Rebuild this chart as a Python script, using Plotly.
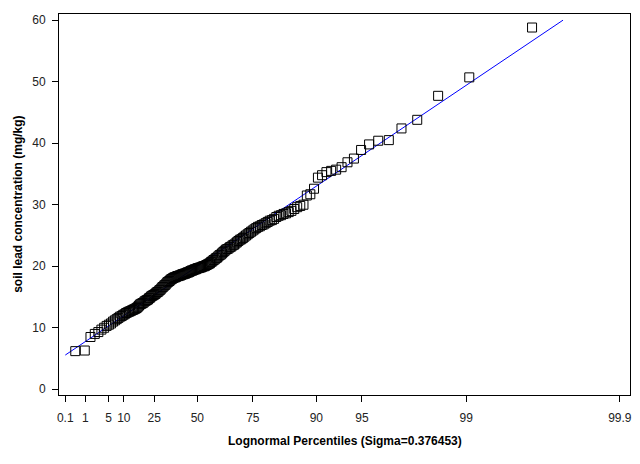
from statistics import NormalDist
import numpy as np
import plotly.graph_objects as go

# soil lead concentration (mg/kg), sorted ascending
lead = [
    6.2, 6.3, 8.5, 9.0, 9.3, 9.7, 10.0, 10.3, 10.5, 10.7,
    11.0, 11.2, 11.4, 11.6, 11.8, 11.9, 12.1, 12.2, 12.4, 12.5,
    12.6, 12.7, 12.8, 12.9, 13.0, 13.1, 13.2, 13.4, 13.6, 13.8,
    13.9, 14.0, 14.1, 14.3, 14.4, 14.5, 14.6, 14.8, 14.9, 15.1,
    15.2, 15.3, 15.4, 15.5, 15.7, 15.8, 15.9, 16.1, 16.2, 16.4,
    16.6, 16.7, 16.9, 17.0, 17.2, 17.4, 17.5, 17.6, 17.8, 17.9,
    18.0, 18.1, 18.2, 18.2, 18.3, 18.4, 18.4, 18.5, 18.5, 18.6,
    18.7, 18.7, 18.8, 18.8, 18.9, 19.0, 19.0, 19.1, 19.2, 19.3,
    19.3, 19.4, 19.5, 19.5, 19.6, 19.7, 19.7, 19.8, 19.8, 19.9,
    20.0, 20.0, 20.1, 20.2, 20.3, 20.4, 20.5, 20.7, 20.8, 21.0,
    21.1, 21.3, 21.4, 21.6, 21.8, 21.9, 22.1, 22.3, 22.5, 22.7,
    22.8, 22.9, 23.1, 23.2, 23.4, 23.5, 23.7, 23.9, 24.1, 24.3,
    24.4, 24.6, 24.8, 25.0, 25.2, 25.4, 25.6, 25.8, 26.0, 26.2,
    26.4, 26.5, 26.7, 26.8, 27.0, 27.2, 27.4, 27.5, 27.7, 28.0,
    28.2, 28.3, 28.5, 28.6, 28.8, 29.0, 29.3, 29.6, 29.8, 30.0,
    31.5, 31.7, 32.6, 34.4, 34.8, 35.3, 35.5, 35.7, 36.1, 36.9,
    37.5, 38.9, 39.8, 40.4, 40.5, 42.4, 43.8, 47.7, 50.7, 58.8,
]

sigma = 0.376453
# fitted reference line: y = theta + exp(zeta) * exp(sigma * z)
line_theta = -1.0
line_scale = 21.0

pct_ticks = [0.1, 1, 5, 10, 25, 50, 75, 90, 95, 99, 99.9]
pct_labels = ["0.1", "1", "5", "10", "25", "50", "75", "90", "95", "99", "99.9"]
y_ticks = [0, 10, 20, 30, 40, 50, 60]

nd = NormalDist()


def lognorm_x(p):
    # percentile (0-1) -> position on the lognormal probability axis
    return np.exp(sigma * np.array([nd.inv_cdf(v) for v in np.atleast_1d(p)]))


n = len(lead)
ranks = np.arange(1, n + 1)
blom = (ranks - 0.375) / (n + 0.25)
x_pts = lognorm_x(blom)

x_line = np.array([lognorm_x(0.001)[0], (60 - line_theta) / line_scale])
y_line = line_theta + line_scale * x_line

font = "Liberation Sans, Arial, sans-serif"

fig = go.Figure()
fig.add_trace(go.Scatter(
    x=x_line, y=y_line, mode="lines",
    line=dict(color="#0000ff", width=1), hoverinfo="skip",
))
fig.add_trace(go.Scatter(
    x=x_pts, y=lead, mode="markers",
    marker=dict(symbol="square-open", size=9, color="black",
                line=dict(width=1, color="black")),
))

# page body adds an 8px margin, so the figure is 8px smaller on each side
fig.update_layout(
    width=632, height=456,
    margin=dict(l=51, r=10, t=6, b=69),
    paper_bgcolor="white", plot_bgcolor="white",
    showlegend=False,
    font=dict(family=font, size=12, color="#222222"),
)
fig.update_xaxes(
    range=[0.2797, 3.2536], automargin=False,
    tickvals=list(lognorm_x(np.array(pct_ticks) / 100)),
    ticktext=pct_labels,
    ticks="outside", ticklen=6, tickcolor="black", ticklabelstandoff=6,
    showgrid=False, zeroline=False,
    showline=True, linecolor="black", linewidth=1, mirror=True,
)
fig.update_yaxes(
    range=[-0.93, 61.0], automargin=False,
    tickvals=y_ticks,
    ticks="outside", ticklen=6, tickcolor="black", ticklabelstandoff=4,
    showgrid=False, zeroline=False,
    showline=True, linecolor="black", linewidth=1, mirror=True,
)

# axis titles placed as annotations so they sit where the original has them
fig.add_annotation(
    text="<b>Lognormal Percentiles (Sigma=0.376453)</b>",
    xref="paper", yref="paper", x=0.5, y=-0.122, yanchor="middle",
    showarrow=False, font=dict(size=12, color="black"),
)
fig.add_annotation(
    text="<b>soil lead concentration (mg/kg)</b>", textangle=-90,
    xref="paper", yref="paper", x=-0.073, y=0.5, xanchor="center",
    showarrow=False, font=dict(size=12, color="black"),
)

fig.write_html("out.html")
